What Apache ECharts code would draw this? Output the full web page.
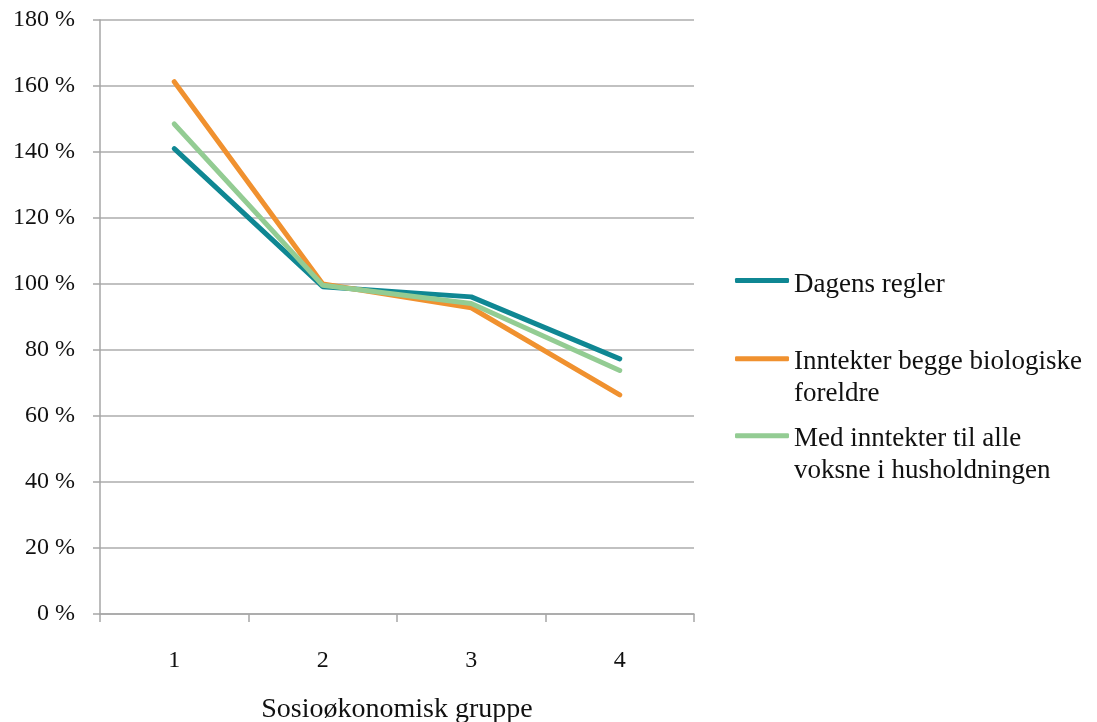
<!DOCTYPE html>
<html>
<head>
<meta charset="utf-8">
<script src="https://cdn.jsdelivr.net/npm/echarts@6/dist/echarts.min.js"></script>
<style>html,body{margin:0;padding:0;background:#fff}#c{width:1097px;height:722px}</style>
</head>
<body>
<div id="c"></div>
<script>
const categories = ['1', '2', '3', '4'];
const dagensRegler = [141, 99.2, 96.1, 77.3];
const inntekterBegge = [161.3, 100, 92.8, 66.4];
const medInntekterAlle = [148.5, 99.6, 94.1, 73.8];
const seriesNames = ['Dagens regler', 'Inntekter begge biologiske\nforeldre', 'Med inntekter til alle\nvoksne i husholdningen'];
const yTicks = [0, 20, 40, 60, 80, 100, 120, 140, 160, 180];

const FONT = 'Liberation Serif';
const colors = ['#0f8793', '#f0912f', '#93cc93'];
const chart = echarts.init(document.getElementById('c'));
function legendFor(i, top, twoLine) {
  return {
    orient: 'vertical', left: 735, top: top, padding: 0,
    icon: 'roundRect', itemWidth: 54, itemHeight: 5,
    data: [{ name: seriesNames[i] }],
    formatter: twoLine
      ? (n => '{e| }\n' + n.split('\n').map(s => '{b|' + s + '}').join('\n'))
      : (n => '{a|' + n + '}'),
    textStyle: { fontFamily: FONT, fontSize: 27, color: '#111', lineHeight: 32.5,
      rich: {
        a: { fontFamily: FONT, fontSize: 27, color: '#111', lineHeight: 32, padding: [8, 0, 0, 0] },
        b: { fontFamily: FONT, fontSize: 27, color: '#111', lineHeight: 32.5 },
        e: { fontFamily: FONT, fontSize: 27, lineHeight: 38.5 }
      } },
    selectedMode: false
  };
}
chart.setOption({
  animation: false,
  color: colors,
  grid: { left: 100, right: 403, top: 20, bottom: 108, containLabel: false, outerBoundsMode: 'none' },
  legend: [legendFor(0, 263, false), legendFor(1, 307, true), legendFor(2, 384, true)],
  xAxis: {
    type: 'category', data: categories, boundaryGap: true,
    name: 'Sosioøkonomisk gruppe', nameLocation: 'middle', nameGap: 82,
    nameTextStyle: { fontFamily: FONT, fontSize: 28, color: '#111' },
    axisLine: { lineStyle: { color: '#a6a6a6', width: 1.5 } },
    axisTick: { show: true, length: 8, alignWithLabel: false, lineStyle: { color: '#a6a6a6', width: 1.5 } },
    axisLabel: { fontFamily: FONT, fontSize: 24, color: '#111', margin: 35 }
  },
  yAxis: {
    type: 'value', min: 0, max: 180, interval: 20,
    axisLine: { show: true, lineStyle: { color: '#a6a6a6', width: 1.5 } },
    axisTick: { show: true, length: 7, lineStyle: { color: '#a6a6a6', width: 1.5 } },
    splitLine: { lineStyle: { color: '#adadad', width: 1.5 } },
    axisLabel: { fontFamily: FONT, fontSize: 24, color: '#111', margin: 25,
      formatter: v => yTicks.includes(v) ? v + ' %' : '' }
  },
  series: [
    { name: seriesNames[0], type: 'line', data: dagensRegler, symbol: 'none', lineStyle: { width: 5, color: colors[0], cap: 'round' } },
    { name: seriesNames[1], type: 'line', data: inntekterBegge, symbol: 'none', lineStyle: { width: 5, color: colors[1], cap: 'round' } },
    { name: seriesNames[2], type: 'line', data: medInntekterAlle, symbol: 'none', lineStyle: { width: 5, color: colors[2], cap: 'round' } }
  ]
});
</script>
</body>
</html>
